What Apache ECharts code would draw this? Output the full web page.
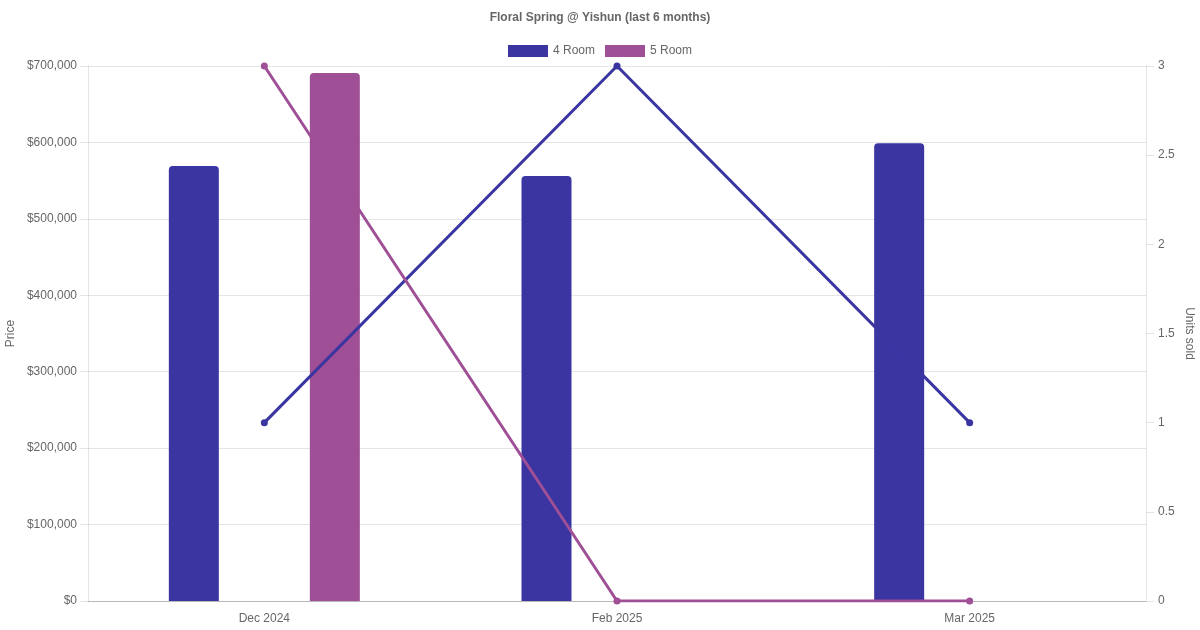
<!DOCTYPE html>
<html>
<head>
<meta charset="utf-8">
<script src="https://cdn.jsdelivr.net/npm/echarts@6/dist/echarts.min.js"></script>
<style>html,body{margin:0;padding:0;background:#fff}#c{width:1200px;height:630px}</style>
</head>
<body>
<div id="c"></div>
<script>
var categories = ['Dec 2024', 'Feb 2025', 'Mar 2025'];
var price4Room = [569000, 556000, 599000];
var price5Room = [691000, null, null];
var units4Room = [1, 3, 1];
var units5Room = [3, 0, 0];
var priceTicks = [0, 100000, 700000];
var unitTicks = [0, 0.5, 3];

var C4 = '#3A35A1';
var C5 = '#9F4F95';
var FONT = 'Liberation Sans, Arial, Helvetica, sans-serif';
var GRID = 'rgba(0,0,0,0.1)';

var chart = echarts.init(document.getElementById('c'), null, {renderer: 'canvas'});
chart.setOption({
  animation: false,
  textStyle: {fontFamily: FONT},
  title: {
    text: 'Floral Spring @ Yishun (last 6 months)',
    left: 'center', top: 7,
    textStyle: {fontSize: 12, fontWeight: 'bold', color: '#666', fontFamily: FONT}
  },
  legend: {
    top: 40, left: 'center',
    icon: 'rect', itemWidth: 40, itemHeight: 12, itemGap: 10,
    textStyle: {fontSize: 12, color: '#666', fontFamily: FONT},
    data: ['4 Room', '5 Room']
  },
  grid: {left: 88, right: 54, top: 66, bottom: 29, containLabel: false, outerBoundsMode: 'none'},
  xAxis: {
    type: 'category', data: categories,
    axisLine: {show: true, lineStyle: {color: 'rgba(0,0,0,0.2)'}},
    axisTick: {show: false},
    axisLabel: {color: '#666', fontSize: 12, margin: 12, fontFamily: FONT},
    splitLine: {show: false}
  },
  yAxis: [{
    type: 'value', min: priceTicks[0], max: priceTicks[2], interval: priceTicks[1],
    name: 'Price', nameLocation: 'middle', nameGap: 71, nameRotate: 90, nameMoveOverlap: false,
    nameTextStyle: {color: '#666', fontSize: 12, fontFamily: FONT},
    axisLine: {show: true, lineStyle: {color: GRID}},
    axisTick: {show: true, length: 8, lineStyle: {color: GRID}},
    axisLabel: {color: '#666', fontSize: 12, margin: 11, fontFamily: FONT, padding: [2, 0, 0, 0],
      formatter: function (v) { return '$' + v.toLocaleString('en-US'); }},
    splitLine: {show: true, lineStyle: {color: GRID}}
  }, {
    type: 'value', min: unitTicks[0], max: unitTicks[2], interval: unitTicks[1],
    position: 'right',
    name: 'Units sold', nameLocation: 'middle', nameGap: 37, nameRotate: -90, nameMoveOverlap: false,
    nameTextStyle: {color: '#666', fontSize: 12, fontFamily: FONT},
    axisLine: {show: true, lineStyle: {color: GRID}},
    axisTick: {show: true, length: 8, lineStyle: {color: GRID}},
    axisLabel: {color: '#666', fontSize: 12, margin: 12, fontFamily: FONT, padding: [2, 0, 0, 0]},
    splitLine: {show: false}
  }],
  series: [{
    name: '4 Room', type: 'bar', yAxisIndex: 0, data: price4Room,
    barWidth: 50, barGap: '182%',
    itemStyle: {color: C4, borderRadius: [4, 4, 0, 0]}
  }, {
    name: '5 Room', type: 'bar', yAxisIndex: 0, data: price5Room,
    barWidth: 50, barGap: '182%',
    itemStyle: {color: C5, borderRadius: [4, 4, 0, 0]}
  }, {
    name: '4 Room', type: 'line', yAxisIndex: 1, data: units4Room, z: 5,
    symbol: 'circle', symbolSize: 7, showSymbol: true,
    lineStyle: {color: C4, width: 3}, itemStyle: {color: C4}
  }, {
    name: '5 Room', type: 'line', yAxisIndex: 1, data: units5Room, z: 5,
    symbol: 'circle', symbolSize: 7, showSymbol: true,
    lineStyle: {color: C5, width: 3}, itemStyle: {color: C5}
  }]
});
</script>
</body>
</html>
